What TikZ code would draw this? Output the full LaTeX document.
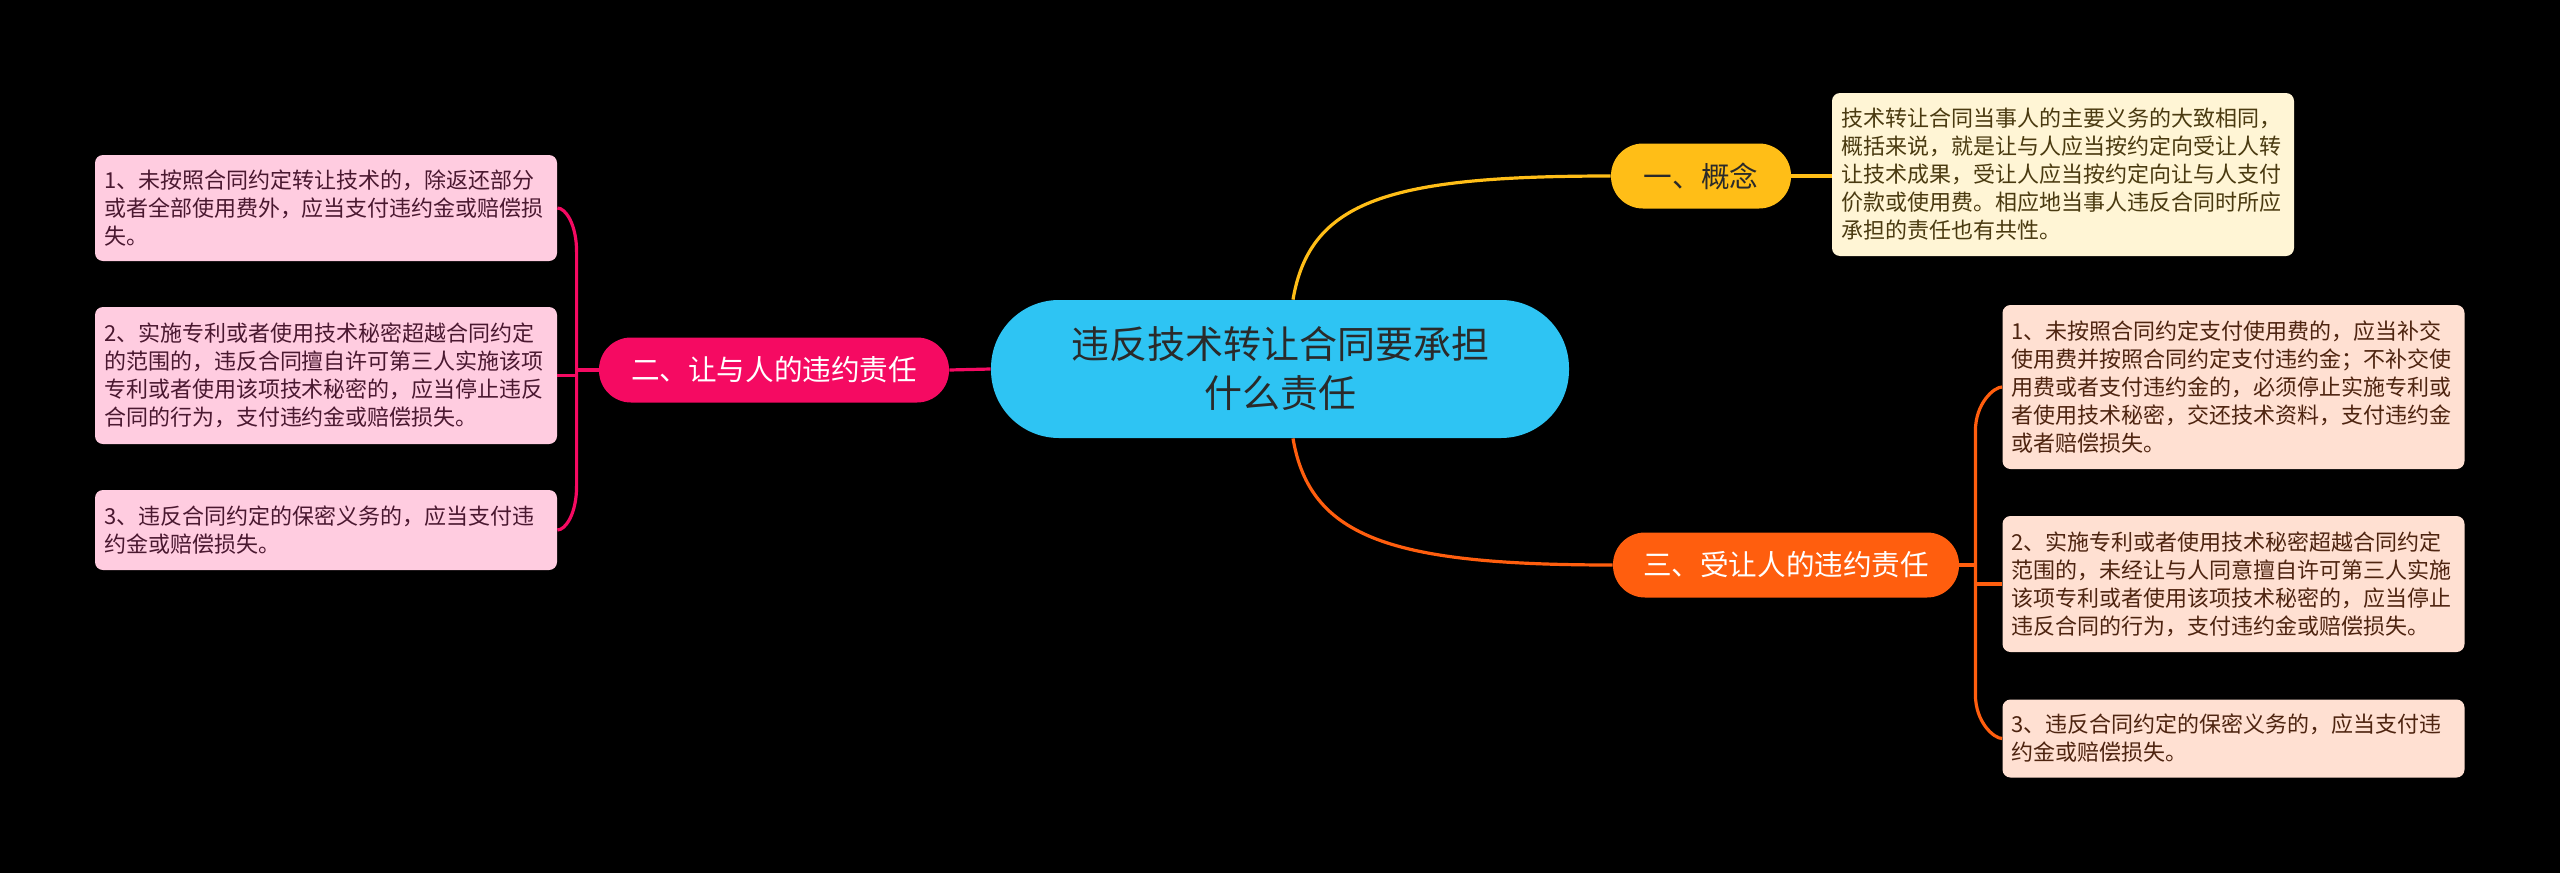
\documentclass[tikz,border=0pt]{standalone}
\usepackage{fontspec}
\setmainfont{Noto Sans CJK SC}
\usetikzlibrary{calc}
\definecolor{cenfill}{HTML}{2EC4F3}
\definecolor{centext}{HTML}{2A2A2A}
\definecolor{yel}{HTML}{FFBE17}
\definecolor{yelbox}{HTML}{FFF5D5}
\definecolor{yeltext}{HTML}{4A3A10}
\definecolor{pnk}{HTML}{F50A62}
\definecolor{pnkbox}{HTML}{FFCCE0}
\definecolor{pnktext}{HTML}{4A1830}
\definecolor{org}{HTML}{FF5E0E}
\definecolor{orgbox}{HTML}{FFE0D2}
\definecolor{orgtext}{HTML}{4E2410}
\tikzset{
  central/.style={fill=cenfill, text=centext, rounded corners=34pt, minimum width=289pt, minimum height=69pt, align=center, inner sep=0pt, font=\fontsize{19pt}{24.5pt}\selectfont},
  branch/.style={rounded corners=16pt, minimum height=32.5pt, inner sep=0pt, font=\fontsize{14.3pt}{17pt}\selectfont},
  leaf/.style={rounded corners=4pt, text width=222pt, inner xsep=4.5pt, inner ysep=0pt, align=left, font=\fontsize{11pt}{14pt}\selectfont},
  link/.style={line width=1.6pt},
}
\begin{document}
\begin{tikzpicture}[x=0.5pt,y=-0.5pt]
\fill[black] (0,0) rectangle (2560,873);
\useasboundingbox (0,0) rectangle (2560,873);

% central
\node[central] (c) at (1280,369) {违反技术转让合同要承担\\什么责任};

% branches
\node[branch, fill=yel, text=centext, minimum width=90pt] (a) at (1701,176) {一、概念};
\node[branch, fill=pnk, text=white, minimum width=175pt] (b) at (774,370) {二、让与人的违约责任};
\node[branch, fill=org, text=white, minimum width=173pt] (d) at (1786,565) {三、受让人的违约责任};

% concept leaf
\node[leaf, fill=yelbox, text=yeltext, minimum height=81.5pt] (a1) at (2063,174.5) {技术转让合同当事人的主要义务的大致相同，\\概括来说，就是让与人应当按约定向受让人转\\让技术成果，受让人应当按约定向让与人支付\\价款或使用费。相应地当事人违反合同时所应\\承担的责任也有共性。};

% left leaves
\node[leaf, fill=pnkbox, text=pnktext, minimum height=53pt] (l1) at (326,208) {1、未按照合同约定转让技术的，除返还部分\\或者全部使用费外，应当支付违约金或赔偿损\\失。};
\node[leaf, fill=pnkbox, text=pnktext, minimum height=68.5pt] (l2) at (326,375.5) {2、实施专利或者使用技术秘密超越合同约定\\的范围的，违反合同擅自许可第三人实施该项\\专利或者使用该项技术秘密的，应当停止违反\\合同的行为，支付违约金或赔偿损失。};
\node[leaf, fill=pnkbox, text=pnktext, minimum height=40pt] (l3) at (326,530) {3、违反合同约定的保密义务的，应当支付违\\约金或赔偿损失。};

% right leaves
\node[leaf, fill=orgbox, text=orgtext, minimum height=82pt] (r1) at (2233.5,387) {1、未按照合同约定支付使用费的，应当补交\\使用费并按照合同约定支付违约金；不补交使\\用费或者支付违约金的，必须停止实施专利或\\者使用技术秘密，交还技术资料，支付违约金\\或者赔偿损失。};
\node[leaf, fill=orgbox, text=orgtext, minimum height=68pt] (r2) at (2233.5,584) {2、实施专利或者使用技术秘密超越合同约定\\范围的，未经让与人同意擅自许可第三人实施\\该项专利或者使用该项技术秘密的，应当停止\\违反合同的行为，支付违约金或赔偿损失。};
\node[leaf, fill=orgbox, text=orgtext, minimum height=39pt] (r3) at (2233.5,738.5) {3、违反合同约定的保密义务的，应当支付违\\约金或赔偿损失。};

% main connectors
\draw[link, yel] ([xshift=6.5pt]c.north) .. controls ([xshift=15pt,yshift=50pt]c.north) and ([xshift=-110pt]a.west) .. (a.west);
\draw[link, org] ([xshift=6.5pt]c.south) .. controls ([xshift=15pt,yshift=-50pt]c.south) and ([xshift=-110pt]d.west) .. (d.west);
\draw[link, pnk] (c.west) -- (b.west -| b.east);
\draw[link, yel] (a.east) -- (a.east -| a1.west);

% left bracket
\draw[link, pnk] (b.west) -- ++(-11pt,0) coordinate (hl);
\draw[link, pnk] (hl) -- ($(hl |- l1.east)+(0,-22pt)$) .. controls ($(hl |- l1.east)+(0,-8pt)$) and ($(l1.east)+(4pt,0)$) .. (l1.east);
\draw[link, pnk] (hl) -- ($(hl |- l3.east)+(0,22pt)$) .. controls ($(hl |- l3.east)+(0,8pt)$) and ($(l3.east)+(4pt,0)$) .. (l3.east);
\draw[link, pnk] (hl |- l2.east) -- (l2.east);

% right bracket
\draw[link, org] (d.east) -- ++(8pt,0) coordinate (hr);
\draw[link, org] (hr) -- ($(hr |- r1.west)+(0,-22pt)$) .. controls ($(hr |- r1.west)+(0,-8pt)$) and ($(r1.west)+(-4pt,0)$) .. (r1.west);
\draw[link, org] (hr) -- ($(hr |- r3.west)+(0,22pt)$) .. controls ($(hr |- r3.west)+(0,8pt)$) and ($(r3.west)+(-4pt,0)$) .. (r3.west);
\draw[link, org] (hr |- r2.west) -- (r2.west);
\end{tikzpicture}
\end{document}
